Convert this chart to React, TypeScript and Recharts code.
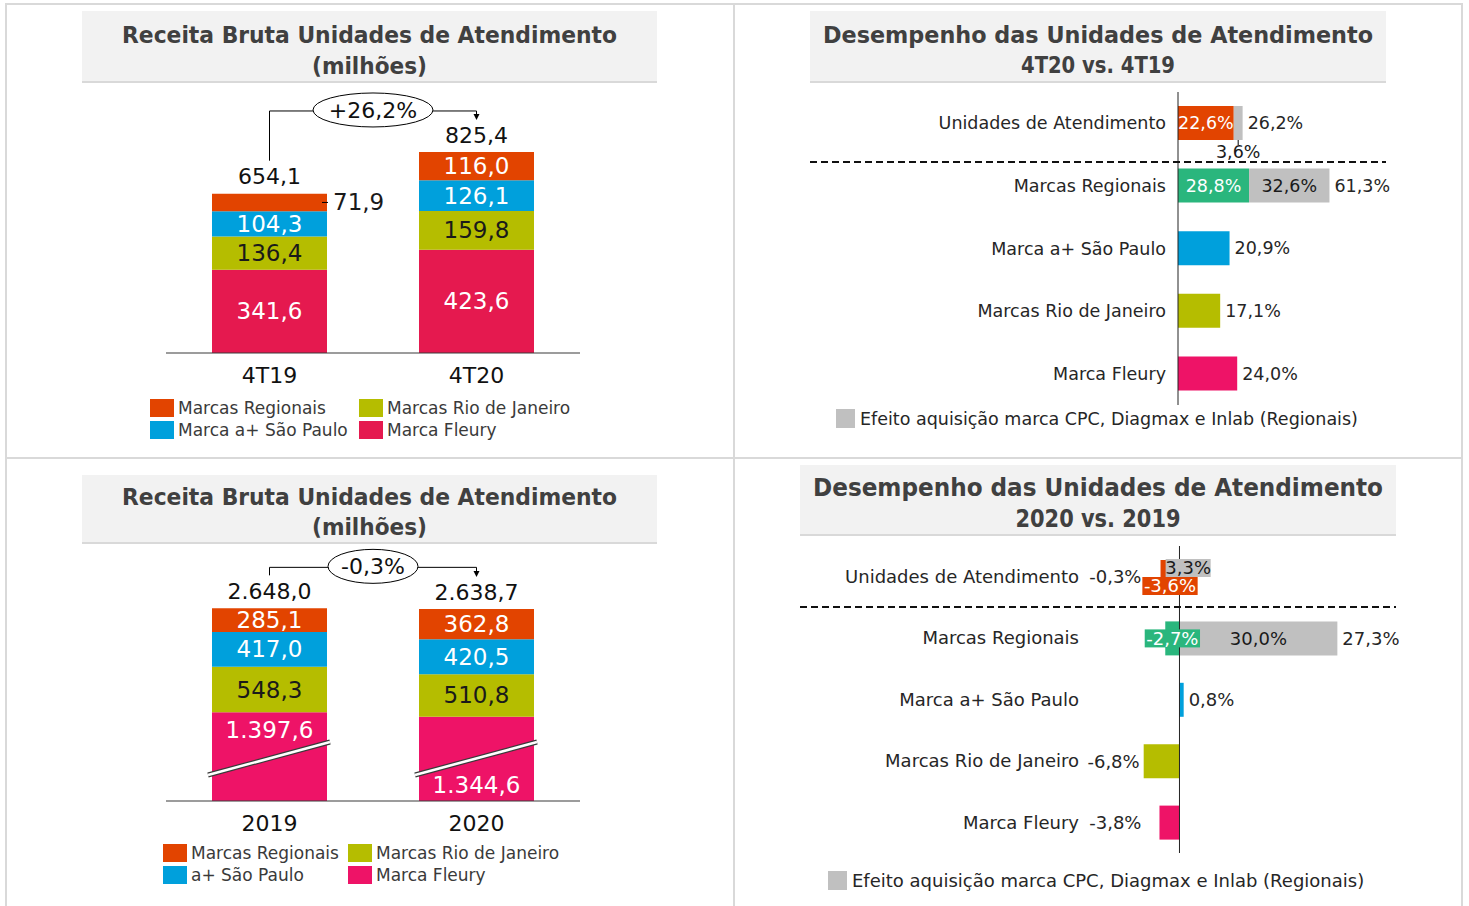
import React from "react";
import { BarChart, Bar, XAxis, YAxis, Cell, LabelList, ReferenceArea, ReferenceLine } from "recharts";

const FONT = "'DejaVu Sans', Verdana, sans-serif";
const TITLE_FONT = "'DejaVu Sans Condensed', 'Liberation Sans Narrow', 'DejaVu Sans', sans-serif";

const C_REG = "#e24400";
const C_SP = "#00a0dc";
const C_RJ = "#b5bd00";
const C_FLEURY_Q = "#e5194f";
const C_FLEURY = "#ee1367";
const C_GREEN = "#2ab67d";
const C_GRAY = "#c0c0c0";
const C_GRID = "#d9d9d9";
const C_TEXT = "#262626";

// receita bruta 4T19 x 4T20 (milhões)
const PERIODS_Q = ["4T19", "4T20"];
const FLEURY_Q = [341.6, 423.6];
const RJ_Q = [136.4, 159.8];
const SP_Q = [104.3, 126.1];
const REG_Q = [71.9, 116.0];
const TOTAL_Q = [654.1, 825.4];
const GROWTH_Q = "+26,2%";

// receita bruta 2019 x 2020 (milhões)
const PERIODS_Y = ["2019", "2020"];
const FLEURY_Y = [1397.6, 1344.6];
const RJ_Y = [548.3, 510.8];
const SP_Y = [417.0, 420.5];
const REG_Y = [285.1, 362.8];
const TOTAL_Y = [2648.0, 2638.7];
const GROWTH_Y = "-0,3%";
const FLEURY_CUT_Y = 330; // quebra de eixo no bloco Fleury
const FLEURY_LABEL_AT_Y = ["top", "bottom"];

// desempenho das unidades (%)
const UNITS = ["Unidades de Atendimento", "Marcas Regionais", "Marca a+ São Paulo", "Marcas Rio de Janeiro", "Marca Fleury"];
const UNIT_COLORS = [C_REG, C_GREEN, C_SP, C_RJ, C_FLEURY];
const ORGANIC_Q = [22.6, 28.8, 20.9, 17.1, 24.0];
const ACQ_Q = [3.6, 32.6, 0, 0, 0];
const GROWTH_UNITS_Q = [26.2, 61.3, 20.9, 17.1, 24.0];
const ORGANIC_Y = [-3.6, -2.7, 0.8, -6.8, -3.8];
const ACQ_Y = [3.3, 30.0, 0, 0, 0];
const GROWTH_UNITS_Y = [-0.3, 27.3, 0.8, -6.8, -3.8];

const ACQ_LABEL = "Efeito aquisição marca CPC, Diagmax e Inlab (Regionais)";

function fmtBR(v: number) {
  const [int, dec] = Math.abs(v).toFixed(1).split(".");
  return (v < 0 ? "-" : "") + int.replace(/\B(?=(\d{3})+(?!\d))/g, ".") + "," + dec;
}
const pct = (v: number) => fmtBR(v) + "%";

const vbox = (l: any) => l.viewBox ?? l;

function num(x: number, y: number, txt: string, fill: string, size = 23) {
  return (
    <text x={x} y={y} dy="0.35em" textAnchor="middle" fontSize={size} fill={fill} fontFamily={FONT}>
      {txt}
    </text>
  );
}

type RevenueProps = {
  left: number; top: number; height: number; yMax: number;
  periods: string[]; fleury: number[]; rj: number[]; sp: number[]; reg: number[];
  totals: number[]; growth: string; fleuryColor: string; cut: number;
  fleuryLabelAt?: string[]; ellipseRx: number;
};

function RevenueChart(p: RevenueProps) {
  const data = p.periods.map((period, i) => ({
    period,
    fleury: p.fleury[i] - p.cut,
    rj: p.rj[i],
    sp: p.sp[i],
    reg: p.reg[i],
  }));
  const stackTop = data.map((d) => d.fleury + d.rj + d.sp + d.reg);

  const fleuryLabel = (l: any) => {
    const { x, y, width, height } = vbox(l);
    const i = l.index;
    let ty = y + height / 2;
    let brk = null;
    if (p.cut > 0) {
      ty = p.fleuryLabelAt?.[i] === "bottom" ? y + height - 16 : y + 18;
      const x1 = x - 4, y1 = y + height - 26, x2 = x + width + 3, y2 = y + height - 59;
      brk = (
        <g>
          <line x1={x1} y1={y1} x2={x2} y2={y2} stroke="#3a3a3a" strokeWidth={5} />
          <line x1={x1} y1={y1} x2={x2} y2={y2} stroke="#fff" strokeWidth={2.6} />
        </g>
      );
    }
    return <g>{brk}{num(x + width / 2, ty, fmtBR(p.fleury[i]), "#fff")}</g>;
  };

  const centerLabel = (values: number[], fill: string) => (l: any) => {
    const { x, y, width, height } = vbox(l);
    return num(x + width / 2, y + height / 2, fmtBR(values[l.index]), fill);
  };

  const regLabel = (l: any) => {
    const { x, y, width, height } = vbox(l);
    const txt = fmtBR(p.reg[l.index]);
    const cy = y + height / 2;
    if (height < 20) {
      return (
        <g>
          <line x1={x + width - 5} x2={x + width + 1} y1={cy} y2={cy} stroke="#000" strokeWidth={1} />
          <text x={x + width + 6} y={cy} dy="0.35em" textAnchor="start" fontSize={23} fill="#1a1a1a" fontFamily={FONT}>
            {txt}
          </text>
        </g>
      );
    }
    return num(x + width / 2, cy, txt, "#fff");
  };

  const totalLabel = (l: any) => {
    const { x, y, width } = vbox(l);
    return num(x + width / 2, y - 17, fmtBR(p.totals[l.index]), "#111", 22);
  };

  const bracket = (r: any) => {
    const leftHigher = stackTop[0] >= stackTop[1];
    const top0 = leftHigher ? r.y : r.y + r.height;
    const top1 = leftHigher ? r.y + r.height : r.y;
    const c0 = r.x + r.width / 4;
    const c1 = r.x + (3 * r.width) / 4;
    const mid = (c0 + c1) / 2;
    const hy = Math.min(top0, top1) - 41;
    return (
      <g>
        <polyline points={`${c0},${top0 - 33} ${c0},${hy} ${c1},${hy} ${c1},${top1 - 37}`} fill="none" stroke="#000" strokeWidth={1} />
        <path d={`M${c1 - 3},${top1 - 38} L${c1 + 3},${top1 - 38} L${c1},${top1 - 32} Z`} fill="#000" />
        <ellipse cx={mid} cy={hy - 1} rx={p.ellipseRx} ry={17} fill="#fff" stroke="#000" strokeWidth={1} />
        <text x={mid} y={hy - 1} dy="0.35em" textAnchor="middle" fontSize={22} fill="#111" fontFamily={FONT}>
          {p.growth}
        </text>
      </g>
    );
  };

  return (
    <div style={{ position: "absolute", left: p.left, top: p.top }}>
      <BarChart width={414} height={p.height} data={data} margin={{ top: 10, right: 0, bottom: 0, left: 0 }} barSize={115}>
        <XAxis
          dataKey="period"
          height={37}
          tickLine={false}
          tickSize={0}
          tickMargin={0}
          axisLine={{ stroke: "#3a3a3a", strokeWidth: 1.2 }}
          tick={(t: any) => num(t.x, t.y + 22, t.payload.value, "#111", 22)}
        />
        <YAxis hide domain={[0, p.yMax]} allowDataOverflow />
        <ReferenceArea x1={p.periods[0]} x2={p.periods[1]} y1={stackTop[0]} y2={stackTop[1]} ifOverflow="visible" shape={bracket} />
        <Bar dataKey="fleury" stackId="r" fill={p.fleuryColor} isAnimationActive={false}>
          <LabelList content={fleuryLabel} />
        </Bar>
        <Bar dataKey="rj" stackId="r" fill={C_RJ} isAnimationActive={false}>
          <LabelList content={centerLabel(p.rj, "#1a1a1a")} />
        </Bar>
        <Bar dataKey="sp" stackId="r" fill={C_SP} isAnimationActive={false}>
          <LabelList content={centerLabel(p.sp, "#fff")} />
        </Bar>
        <Bar dataKey="reg" stackId="r" fill={C_REG} isAnimationActive={false}>
          <LabelList content={regLabel} />
          <LabelList content={totalLabel} />
        </Bar>
      </BarChart>
    </div>
  );
}

function tag(cx: number, cy: number, txt: string, bg: string, fg: string, size: number) {
  const w = txt.length * size * 0.57 + 4;
  return (
    <g>
      <rect x={cx - w / 2} y={cy - 9} width={w} height={18} fill={bg} />
      <text x={cx} y={cy} dy="0.35em" textAnchor="middle" fontSize={size} fill={fg} fontFamily={FONT}>
        {txt}
      </text>
    </g>
  );
}

type GrowthProps = {
  left: number; top: number; height: number; yAxisWidth: number; plotWidth: number; tickGap: number;
  domain: [number, number]; organic: number[]; acq: number[]; totals: number[];
  fontSize: number; smallLabel: "below" | "box";
};

function GrowthChart(p: GrowthProps) {
  const { organic, acq, totals, fontSize } = p;
  const data = UNITS.map((unit, i) => ({ unit, organic: organic[i], acq: acq[i] }));

  const span = (l: any) => {
    const b = vbox(l);
    const x0 = Math.min(b.x, b.x + b.width);
    const x1 = Math.max(b.x, b.x + b.width);
    return { x0, x1, w: x1 - x0, y: b.y, h: b.height };
  };
  const txt = (x: number, y: number, s: string, anchor: string, fill = C_TEXT) => (
    <text x={x} y={y} dy="0.35em" textAnchor={anchor} fontSize={fontSize} fill={fill} fontFamily={FONT}>
      {s}
    </text>
  );

  const organicLabel = (l: any) => {
    const i = l.index;
    const r = span(l);
    const v = organic[i];
    const k = r.w / Math.abs(v);
    const zero = v < 0 ? r.x1 : r.x0;
    const cx = (r.x0 + r.x1) / 2;
    const cy = r.y + r.h / 2;
    let inner = null;
    if (acq[i] !== 0) {
      if (r.w >= 30) inner = txt(cx, cy, pct(v), "middle", "#fff");
      else {
        const acqNarrow = Math.abs(acq[i]) * k < 30;
        inner = tag(cx, cy + (acqNarrow ? 9 : 0), pct(v), UNIT_COLORS[i], "#fff", fontSize);
      }
    }
    const posEnd = zero + (Math.max(0, v) + Math.max(0, acq[i])) * k;
    const negEnd = zero + (Math.min(0, v) + Math.min(0, acq[i])) * k;
    const t = totals[i];
    const total = t >= 0 ? txt(posEnd + 5, cy, pct(t), "start") : txt(Math.min(negEnd - 4, zero - 38), cy, pct(t), "end");
    return <g>{inner}{total}</g>;
  };

  const acqLabel = (l: any) => {
    const i = l.index;
    if (!acq[i]) return null;
    const r = span(l);
    const cx = (r.x0 + r.x1) / 2;
    const cy = r.y + r.h / 2;
    const s = pct(acq[i]);
    if (r.w >= 30) return txt(cx, cy, s, "middle", "#1a1a1a");
    if (p.smallLabel === "below") {
      return (
        <g>
          <line x1={cx} x2={cx} y1={r.y + r.h} y2={r.y + r.h + 5} stroke="#000" strokeWidth={1} />
          {txt(cx, r.y + r.h + 12, s, "middle", "#1a1a1a")}
        </g>
      );
    }
    const organicNarrow = (Math.abs(organic[i]) * r.w) / Math.abs(acq[i]) < 30;
    return tag(cx, cy - (organicNarrow ? 9 : 0), s, C_GRAY, "#1a1a1a", fontSize);
  };

  return (
    <div style={{ position: "absolute", left: p.left, top: p.top }}>
      <BarChart
        width={p.yAxisWidth + p.plotWidth + 70}
        height={p.height}
        data={data}
        layout="vertical"
        stackOffset="sign"
        margin={{ top: 10, right: 70, bottom: 10, left: 0 }}
        barSize={34}
      >
        <XAxis type="number" hide domain={p.domain} allowDataOverflow />
        <YAxis
          type="category"
          dataKey="unit"
          width={p.yAxisWidth}
          interval={0}
          axisLine={false}
          tickLine={false}
          tickSize={0}
          tickMargin={p.tickGap}
          tick={(t: any) => txt(t.x, t.y, t.payload.value, "end")}
        />
        <Bar dataKey="organic" stackId="g" isAnimationActive={false}>
          {data.map((_, i) => (
            <Cell key={i} fill={UNIT_COLORS[i]} />
          ))}
          <LabelList content={organicLabel} />
        </Bar>
        <Bar dataKey="acq" stackId="g" fill={C_GRAY} isAnimationActive={false}>
          <LabelList content={acqLabel} />
        </Bar>
        <ReferenceLine x={0} stroke="#222" strokeWidth={1} />
      </BarChart>
    </div>
  );
}

function TitleBox(p: { left: number; top: number; width: number; height: number; lines: string[]; lengths: number[]; ys: number[]; size: number }) {
  return (
    <svg style={{ position: "absolute", left: p.left, top: p.top }} width={p.width} height={p.height + 2}>
      <rect x={0} y={0} width={p.width} height={p.height} fill="#f2f2f2" />
      <line x1={0} x2={p.width} y1={p.height} y2={p.height} stroke={C_GRID} strokeWidth={2} />
      {p.lines.map((t, i) => (
        <text
          key={i}
          x={p.width / 2}
          y={p.ys[i]}
          dy="0.35em"
          textAnchor="middle"
          textLength={p.lengths[i]}
          lengthAdjust="spacingAndGlyphs"
          fontSize={p.size}
          fontWeight="bold"
          fill="#404040"
          fontFamily={TITLE_FONT}
        >
          {t}
        </text>
      ))}
    </svg>
  );
}

function SeriesLegend(p: { left: number; top: number; colW: number; items: { label: string; color: string }[] }) {
  return (
    <>
      {p.items.map((it, i) => {
        const x = p.left + (i % 2) * p.colW;
        const y = p.top + Math.floor(i / 2) * 22;
        return (
          <div key={i} style={{ position: "absolute", left: x, top: y, height: 18, display: "flex", alignItems: "center", whiteSpace: "nowrap" }}>
            <div style={{ width: 24, height: 18, background: it.color, marginRight: 4 }} />
            <span style={{ fontSize: 17, color: "#3a3a3a", fontFamily: FONT }}>{it.label}</span>
          </div>
        );
      })}
    </>
  );
}

function AcqLegend(p: { left: number; top: number; size: number }) {
  return (
    <div style={{ position: "absolute", left: p.left, top: p.top, height: 19, display: "flex", alignItems: "center", whiteSpace: "nowrap" }}>
      <div style={{ width: 19, height: 19, background: C_GRAY, marginRight: 5 }} />
      <span style={{ fontSize: p.size, color: C_TEXT, fontFamily: FONT }}>{ACQ_LABEL}</span>
    </div>
  );
}

function Dashed(p: { x1: number; x2: number; y: number }) {
  return (
    <svg style={{ position: "absolute", left: p.x1, top: p.y - 1 }} width={p.x2 - p.x1} height={2}>
      <line x1={0} x2={p.x2 - p.x1} y1={1} y2={1} stroke="#111" strokeWidth={2} strokeDasharray="7 4" />
    </svg>
  );
}

const rule = (left: number, top: number, width: number, height: number) => (
  <div style={{ position: "absolute", left, top, width, height, background: C_GRID }} />
);

export default function App() {
  return (
    <div style={{ position: "relative", width: 1469, height: 906, background: "#fff", overflow: "hidden", fontFamily: FONT }}>
      <style>{"body{margin:0}"}</style>
      {rule(5, 3, 1458, 2)}
      {rule(5, 3, 2, 903)}
      {rule(733, 3, 2, 903)}
      {rule(1461, 3, 2, 903)}
      {rule(5, 457, 1458, 2)}

      <TitleBox left={82} top={11} width={575} height={71} size={23}
        lines={["Receita Bruta Unidades de Atendimento", "(milhões)"]} lengths={[495, 115]} ys={[24, 55]} />
      <TitleBox left={810} top={11} width={576} height={71} size={23}
        lines={["Desempenho das Unidades de Atendimento", "4T20 vs. 4T19"]} lengths={[550, 154]} ys={[24, 54]} />
      <TitleBox left={82} top={475} width={575} height={68} size={23}
        lines={["Receita Bruta Unidades de Atendimento", "(milhões)"]} lengths={[495, 115]} ys={[22, 52]} />
      <TitleBox left={800} top={465} width={596} height={70} size={24}
        lines={["Desempenho das Unidades de Atendimento", "2020 vs. 2019"]} lengths={[570, 165]} ys={[23, 54]} />

      <RevenueChart left={166} top={80} height={310} yMax={1080}
        periods={PERIODS_Q} fleury={FLEURY_Q} rj={RJ_Q} sp={SP_Q} reg={REG_Q} totals={TOTAL_Q}
        growth={GROWTH_Q} fleuryColor={C_FLEURY_Q} cut={0} ellipseRx={60} />
      <SeriesLegend left={150} top={399} colW={209} items={[
        { label: "Marcas Regionais", color: C_REG },
        { label: "Marcas Rio de Janeiro", color: C_RJ },
        { label: "Marca a+ São Paulo", color: C_SP },
        { label: "Marca Fleury", color: C_FLEURY_Q },
      ]} />

      <RevenueChart left={166} top={540} height={298} yMax={3020}
        periods={PERIODS_Y} fleury={FLEURY_Y} rj={RJ_Y} sp={SP_Y} reg={REG_Y} totals={TOTAL_Y}
        growth={GROWTH_Y} fleuryColor={C_FLEURY} cut={FLEURY_CUT_Y} fleuryLabelAt={FLEURY_LABEL_AT_Y} ellipseRx={45} />
      <SeriesLegend left={163} top={844} colW={185} items={[
        { label: "Marcas Regionais", color: C_REG },
        { label: "Marcas Rio de Janeiro", color: C_RJ },
        { label: "a+ São Paulo", color: C_SP },
        { label: "Marca Fleury", color: C_FLEURY },
      ]} />

      <GrowthChart left={800} top={82} height={333} yAxisWidth={378} plotWidth={222} tickGap={12} domain={[0, 90]}
        organic={ORGANIC_Q} acq={ACQ_Q} totals={GROWTH_UNITS_Q} fontSize={17.5} smallLabel="below" />
      <Dashed x1={810} x2={1386} y={162} />
      <AcqLegend left={836} top={409} size={17.5} />

      <GrowthChart left={790} top={536} height={327} yAxisWidth={300} plotWidth={300} tickGap={11} domain={[-17, 40]}
        organic={ORGANIC_Y} acq={ACQ_Y} totals={GROWTH_UNITS_Y} fontSize={18} smallLabel="box" />
      <Dashed x1={800} x2={1396} y={607} />
      <AcqLegend left={828} top={871} size={18} />
    </div>
  );
}
